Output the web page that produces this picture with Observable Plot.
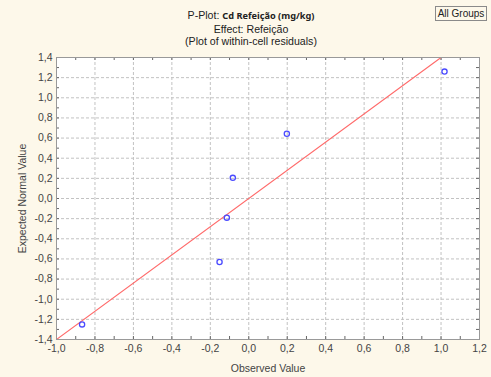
<!DOCTYPE html>
<html>
<head>
<meta charset="utf-8">
<script src="https://cdn.jsdelivr.net/npm/d3@7"></script>
<script src="https://cdn.jsdelivr.net/npm/@observablehq/plot@0.6"></script>
<style>
  html, body { margin: 0; padding: 0; background: #fdf8ea; }
  #chart { position: relative; width: 491px; height: 377px; background: #fdf8ea; overflow: hidden;
           font-family: "Liberation Sans", Arial, sans-serif; color: #222; }
  #chart svg { position: absolute; left: 0; top: 0; }
  .hl { position: absolute; left: 131px; width: 240px; text-align: center; font-size: 10.6px;
        line-height: 12px; white-space: nowrap; z-index: 2; }
  .hl b { font-family: "Noto Sans", "Open Sans", sans-serif; font-weight: 700; font-size: 9.2px; }
  #groups { position: absolute; left: 435px; top: 6px; width: 50px; height: 13px; border: 1px solid #8a8a8a;
            font-size: 10px; line-height: 13px; text-align: center; color: #222; z-index: 2; }
</style>
</head>
<body>
<div id="chart">
  <div class="hl" style="top:9px">P-Plot: <b>Cd Refeição (mg/kg)</b></div>
  <div class="hl" style="top:23px">Effect: Refeição</div>
  <div class="hl" style="top:35px">(Plot of within-cell residuals)</div>
  <div id="groups">All Groups</div>
</div>
<script>
// Within-cell residuals (observed) and their expected normal scores
const observed = [-0.867, -0.152, -0.114, -0.083, 0.198, 1.018];
const expected = [-1.25, -0.63, -0.19, 0.205, 0.643, 1.26];

// Reference line of the normal probability plot
const refX = [-1.0, 1.0];
const refY = [-1.4, 1.4];

// Axis tick values
const xTicks = [-1.0, -0.8, -0.6, -0.4, -0.2, 0.0, 0.2, 0.4, 0.6, 0.8, 1.0, 1.2];
const yTicks = [-1.4, -1.2, -1.0, -0.8, -0.6, -0.4, -0.2, 0.0, 0.2, 0.4, 0.6, 0.8, 1.0, 1.2, 1.4];

const points = observed.map((x, i) => ({x, y: expected[i]}));
const refLine = refX.map((x, i) => ({x, y: refY[i]}));

// minor tick positions every 0.1
const xMinor = d3.ticks(xTicks[0], xTicks[xTicks.length - 1], 22);
const yMinor = d3.ticks(yTicks[0], yTicks[yTicks.length - 1], 28);

const fmt = d => d.toFixed(1).replace(".", ",");

const W = 491, H = 377, mL = 56, mR = 12, mT = 57, mB = 38;
const fw = W - mL - mR, fh = H - mT - mB, tk = 3;

const gridStyle = {stroke: "#c2c2c2", strokeOpacity: 1, strokeWidth: 1, strokeDasharray: "3,2"};
const tickStyle = {stroke: "#666", strokeWidth: 1};

const chart = Plot.plot({
  width: W, height: H,
  marginLeft: mL, marginRight: mR, marginTop: mT, marginBottom: mB,
  style: {background: "transparent", fontFamily: "Liberation Sans, Arial, sans-serif", fontSize: "10.5px", color: "#444"},
  x: {domain: [xTicks[0], xTicks[xTicks.length - 1]]},
  y: {domain: [yTicks[0], yTicks[yTicks.length - 1]]},
  marks: [
    Plot.frame({fill: "white", stroke: null}),
    Plot.gridX(xTicks.slice(1, -1), gridStyle),
    Plot.gridY(yTicks.slice(1, -1), gridStyle),
    // inward ticks on all four sides
    Plot.ruleX(xMinor, {x: d => d, insetTop: fh - tk, ...tickStyle}),
    Plot.ruleX(xMinor, {x: d => d, insetBottom: fh - tk, ...tickStyle}),
    Plot.ruleY(yMinor, {y: d => d, insetRight: fw - tk, ...tickStyle}),
    Plot.ruleY(yMinor, {y: d => d, insetLeft: fw - tk, ...tickStyle}),
    Plot.axisX(xTicks, {tickSize: 0, tickPadding: 5, tickFormat: fmt,
      label: "Observed Value", labelAnchor: "center", labelOffset: 32, labelArrow: "none"}),
    Plot.axisY(yTicks, {tickSize: 0, tickPadding: 4, tickFormat: fmt,
      label: "Expected Normal Value", labelAnchor: "center", labelOffset: 38, labelArrow: "none"}),
    Plot.line(refLine, {x: "x", y: "y", stroke: "#ff6b6b", strokeWidth: 1.1, clip: true}),
    Plot.dot(points, {x: "x", y: "y", r: 2.6, stroke: "#4a4aff", strokeWidth: 1.3, fill: "none"}),
    Plot.frame({stroke: "#999", strokeWidth: 1})
  ]
});

document.getElementById("chart").appendChild(chart);
</script>
</body>
</html>
